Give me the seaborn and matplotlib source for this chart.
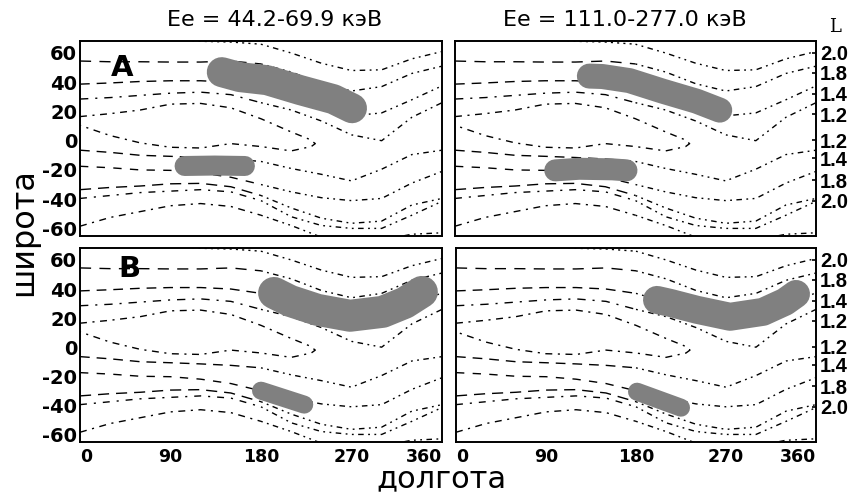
import matplotlib
matplotlib.use("Agg")
import matplotlib.pyplot as plt
import seaborn as sns

sns.set_style("white")
plt.rcParams['font.family'] = ['DejaVu Sans']
plt.rcParams['text.color'] = 'black'
plt.rcParams['xtick.color'] = 'black'
plt.rcParams['ytick.color'] = 'black'

# longitude grid for the L-shell contours
lon = [0, 30, 60, 90, 120, 150, 180, 210, 240, 270, 300, 330, 360]

# northern contours (latitude at each longitude of the grid)
north_1 = [74, 73, 71.5, 69.5, 68, 67.5, 66, 60, 53, 48, 48.5, 56, 61]
north_2 = [54.5, 54, 54, 53.8, 53.8, 54.5, 52.5, 47, 39, 34, 37, 46, 51]
north_3 = [38.7, 39.5, 40.5, 41, 41, 40, 37, 31, 24, 17, 19, 28, 37.5]
north_4 = [28.5, 29.5, 31, 32.5, 33.2, 31.5, 26, 21, 13.5, 4, 0, 16, 26]

# innermost closed contour around the magnetic equator
loop_lon = [0, 30, 60, 90, 120, 150, 180, 210, 228, 234, 230, 210, 180, 150, 120, 90, 60, 30, 0]
loop_lat = [16.5, 18.5, 21, 25, 25.5, 22.5, 15, 6, 1, -2, -4, -7, -4, -2, -5, -4.5, -1.5, 3.5, 10.5]

# southern contours
south_1 = [-6.5, -8, -10, -10.7, -11.5, -12.5, -14.2, -19, -23, -27.5, -19.5, -9.5, -6.5]
south_2 = [-17.5, -18.5, -20, -20.3, -22, -25, -30, -35, -39, -41, -39.5, -29, -21]
south_3 = [-33.5, -32, -31, -29.5, -29.2, -31.5, -37.5, -46, -53, -56.5, -55, -44, -39.5]
south_4 = [-39.5, -37.5, -35.5, -34.5, -33.5, -35, -41, -52, -58, -60, -60, -51, -41.5]
south_5 = [-58.5, -52.5, -48.5, -44.5, -43, -45, -51, -58, -66, -68, -68, -64, -63]

# precipitation zones (centre lines of the grey bands)
a1_n_lon = [141, 159, 186, 219, 252, 270.5]
a1_n_lat = [46.9, 43.5, 41.4, 34.6, 28.4, 22.2]
a1_s_lon = [104, 134, 164]
a1_s_lat = [-17.3, -17.0, -17.3]

a2_n_lon = [134, 147, 174, 207, 241, 264]
a2_n_lat = [44.2, 43.9, 41.1, 33.9, 27.0, 20.9]
a2_s_lon = [100, 124, 157, 171]
a2_s_lat = [-20.3, -19.2, -19.6, -20.3]

b1_n_lon = [193, 209, 236, 268.5, 301, 323, 340]
b1_n_lat = [37.3, 31.8, 25.7, 21.6, 24.3, 30.5, 38.0]
b1_s_lon = [180, 223]
b1_s_lat = [-29.9, -39.5]

b2_n_lon = [201, 214, 241, 274, 307, 329, 340]
b2_n_lat = [32.5, 30.5, 25.7, 20.9, 24.3, 31.2, 36.6]
b2_s_lon = [181, 225]
b2_s_lat = [-30.6, -41.6]

lat_ticks = [-60, -40, -20, 0, 20, 40, 60]
lon_ticks = [0, 90, 180, 270, 360]
L_pos = [60, 46.5, 32, 18.2, 0.4, -12, -27, -41]
L_labels = ["2.0", "1.8", "1.4", "1.2", "1.2", "1.4", "1.8", "2.0"]
titles = ["Ee = 44.2-69.9 кэВ", "Ee = 111.0-277.0 кэВ"]

W, H = 855, 499
fig = plt.figure(figsize=(W / 100, H / 100), dpi=100)


def box(l, t, r, b):
    return [l / W, 1 - b / H, (r - l) / W, (b - t) / H]


contours = [north_1, north_2, north_3, north_4, south_1, south_2, south_3, south_4, south_5]
# western halves of the contours are long dashes, eastern halves dotted
west_styles = [(0, (1.5, 3)), (0, (8, 6)), (0, (7, 5)), (0, (6, 5, 1.5, 5)),
               (0, (7, 5)), (0, (6, 6)), (0, (8, 5)), (0, (5, 5, 1.5, 5)), (0, (5, 4, 1.5, 4))]
east_style = (0, (1.3, 3.2, 1.3, 3.2, 4, 3.2))


def draw_panel(ax, zones, bottom, right, label):
    for lat, ls in zip(contours, west_styles):
        sns.lineplot(x=lon[:7], y=lat[:7], ax=ax, color="black", lw=1.0, linestyle=ls,
                     sort=False, estimator=None, zorder=2)
        sns.lineplot(x=lon[6:], y=lat[6:], ax=ax, color="black", lw=1.0, linestyle=east_style,
                     sort=False, estimator=None, zorder=2)
    sns.lineplot(x=loop_lon, y=loop_lat, ax=ax, color="black", lw=1.0,
                 linestyle=(0, (5, 4, 1.5, 4)), sort=False, estimator=None, zorder=2)
    for zlon, zlat, wpx in zones:
        sns.lineplot(x=zlon, y=zlat, ax=ax, color="#808080", lw=wpx * 0.72,
                     solid_capstyle="round", solid_joinstyle="round",
                     sort=False, estimator=None, zorder=5)
    ax.set_xlim(0, 360)
    ax.set_ylim(-65.2, 68.2)
    ax.set_xlabel("")
    ax.set_ylabel("")
    ax.set_xticks(lon_ticks)
    ax.set_xticks([45, 135, 225, 315], minor=True)
    ax.tick_params(axis="x", which="both", direction="in", length=4, width=1.2, pad=4,
                   labelbottom=bottom)
    if bottom:
        xl = ax.set_xticklabels([str(v) for v in lon_ticks], fontsize=12.5, fontweight="bold")
        xl[0].set_horizontalalignment("left")
        xl[-1].set_horizontalalignment("right")
    if right:
        ax.yaxis.tick_right()
        ax.set_yticks(L_pos)
        ax.set_yticklabels(L_labels, fontsize=14.5, fontweight="bold", family="Liberation Sans")
        ax.tick_params(axis="y", direction="in", length=3, width=1.2, pad=3)
    else:
        ax.set_yticks(lat_ticks)
        ax.set_yticklabels([str(v) for v in lat_ticks], fontsize=14, fontweight="bold")
        ax.tick_params(axis="y", direction="in", length=4, width=1.2, pad=2)
    for s in ax.spines.values():
        s.set_linewidth(1.4)
        s.set_color("black")
    if label:
        ax.text(label[1], label[2], label[0], fontsize=21, fontweight="bold",
                ha="center", va="center", zorder=6)


ax1 = fig.add_axes(box(80, 41, 442, 236))
draw_panel(ax1, [(a1_n_lon, a1_n_lat, 30), (a1_s_lon, a1_s_lat, 20)], False, False, ("A", 42, 49.5))
ax2 = fig.add_axes(box(455, 41, 816, 236))
draw_panel(ax2, [(a2_n_lon, a2_n_lat, 25), (a2_s_lon, a2_s_lat, 22)], False, True, None)
ax3 = fig.add_axes(box(80, 248, 442, 442))
draw_panel(ax3, [(b1_n_lon, b1_n_lat, 32), (b1_s_lon, b1_s_lat, 18)], True, False, ("B", 49, 53.5))
ax4 = fig.add_axes(box(456, 248, 816, 442))
draw_panel(ax4, [(b2_n_lon, b2_n_lat, 28), (b2_s_lon, b2_s_lat, 18)], True, True, None)

fig.text(275 / W, 1 - 20 / H, titles[0], fontsize=16, ha="center", va="center")
fig.text(625 / W, 1 - 20 / H, titles[1], fontsize=16, ha="center", va="center")
fig.text(835 / W, 1 - 27 / H, "L", fontsize=13, family="DejaVu Serif", ha="center", va="center")
fig.text(24 / W, 1 - 232 / H, "широта", fontsize=23, rotation=90, ha="center", va="center")
fig.text(441 / W, 1 - 479 / H, "долгота", fontsize=22, ha="center", va="center")

fig.savefig("out.png", dpi=100)
